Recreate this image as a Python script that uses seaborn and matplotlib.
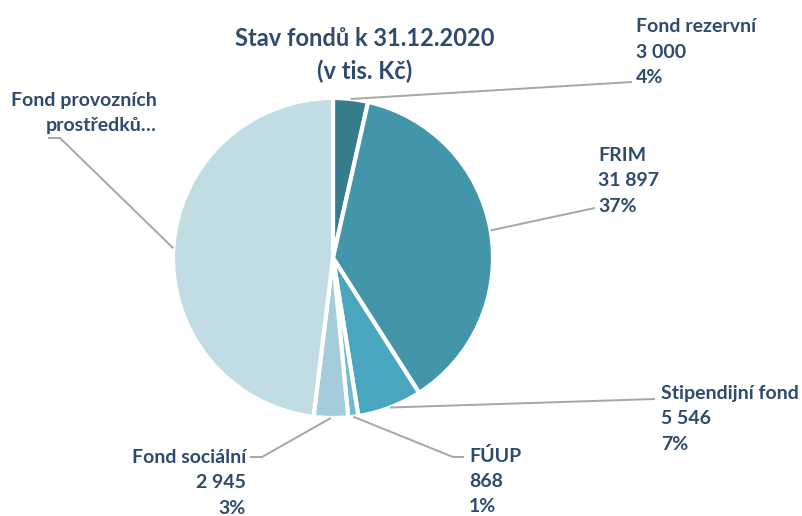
import numpy as np
import matplotlib.pyplot as plt
import seaborn as sns

# Data (tis. Kč)
funds = ['Fond rezervní', 'FRIM', 'Stipendijní fond', 'FÚUP', 'Fond sociální',
         'Fond provozních\nprostředků…']
values = [3000, 31897, 5546, 868, 2945, 40950]
value_labels = ['3 000', '31 897', '5 546', '868', '2 945', None]
colors = ['#367C8D', '#4395AA', '#49A6BE', '#72BACD', '#A3CDDB', '#C2DCE4']

sns.set_theme(style='white')
plt.rcParams['font.family'] = ['Lato', 'DejaVu Sans']
text_color = '#2E4A6C'
line_color = '#A6A6A6'

W, H = 803, 516
CX, CY, R = 333, 258, 160


def px(x, y):
    # pixel position -> data coords (pie radius = 1)
    return (x - CX) / R, (CY - y) / R


fig = plt.figure(figsize=(W / 100, H / 100), dpi=100)
ax = fig.add_axes([0, 0, 1, 1])

wedges, _ = ax.pie(values, colors=sns.color_palette(colors), startangle=90,
                   counterclock=False, radius=1,
                   wedgeprops=dict(edgecolor='white', linewidth=3))

ax.set_xlim((0 - CX) / R, (W - CX) / R)
ax.set_ylim((CY - H) / R, CY / R)
ax.set_aspect('auto')
ax.axis('off')

total = sum(values)
pcts = [round(v / total * 100) for v in values]

# label layout: text anchor (px), alignment, leader path elbow points (px)
layout = [
    dict(pos=(636, 52), ha='left', path=[(632, 82)]),
    dict(pos=(598, 181), ha='left', path=[(595, 208)]),
    dict(pos=(661, 419), ha='left', path=[(655, 399)]),
    dict(pos=(469, 481), ha='left', path=[(453, 457), (464, 457)]),
    dict(pos=(246, 483), ha='right', path=[(262, 457), (250, 457)]),
    dict(pos=(157, 113), ha='right', path=[(60, 138), (48, 138)]),
]

for w, name, vl, p, lay in zip(wedges, funds, value_labels, pcts, layout):
    mid = np.deg2rad((w.theta1 + w.theta2) / 2)
    anchor = (np.cos(mid), np.sin(mid))
    pts = [anchor] + [px(*q) for q in lay['path']]
    xs, ys = zip(*pts)
    ax.plot(xs, ys, color=line_color, lw=1.4, solid_capstyle='butt')
    txt = name if vl is None else f'{name}\n{vl}\n{p}%'
    tx, ty = px(*lay['pos'])
    ax.text(tx, ty, txt, ha=lay['ha'], va='center', multialignment=lay['ha'],
            fontsize=14, fontweight='bold', color=text_color, linespacing=1.6)

tx, ty = px(365, 55)
ax.text(tx, ty, 'Stav fondů k 31.12.2020\n(v tis. Kč)', ha='center', va='center',
        fontsize=17, fontweight='bold', color=text_color, linespacing=1.5)

fig.savefig('out.png', dpi=100)
plt.close(fig)
